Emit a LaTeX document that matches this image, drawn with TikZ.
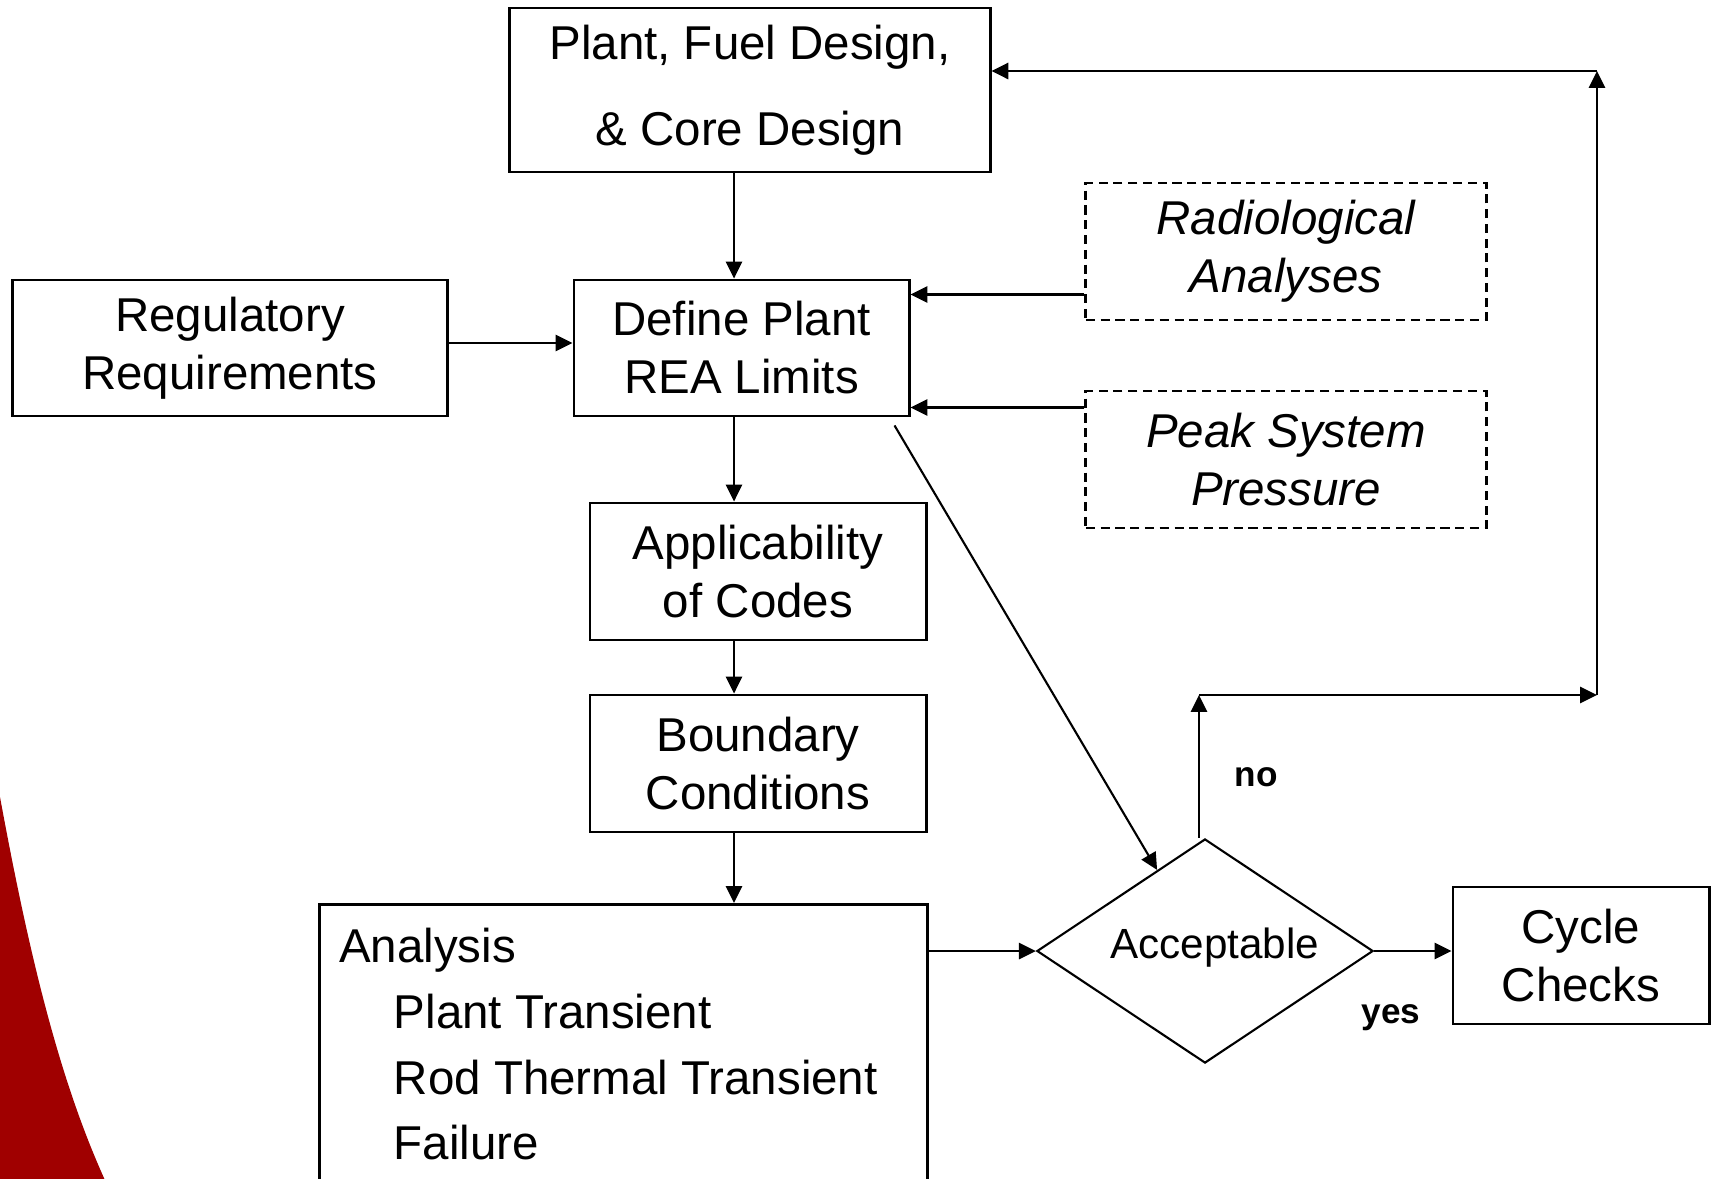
\documentclass[tikz,border=0pt]{standalone}
\usepackage{fontspec}
\setmainfont{Liberation Sans}
\usetikzlibrary{arrows.meta,shapes.geometric,calc}
\definecolor{deckred}{RGB}{160,0,0}

\begin{document}
\begin{tikzpicture}[x=0.01cm, y=-0.01cm, line width=0.6pt,
	every node/.style={font=\fontsize{13.5}{16.5}\selectfont},
	>={Triangle[length=4.8pt,width=4.6pt]},
	blockbox/.style={draw, line width=0.8pt, align=center, inner sep=0pt},
	inputbox/.style={blockbox, dash pattern=on 2.6pt off 1.6pt, font=\fontsize{13.5}{16.5}\selectfont\itshape}]
	\useasboundingbox (0,0) rectangle (1712,1178);
	\fill[deckred] (0,797) .. controls (30,960) and (60,1080) .. (104,1178) -- (112,1200) -- (0,1200) -- cycle;
	\node[blockbox, minimum width=4.8cm, minimum height=1.64cm, font=\fontsize{13.5}{24.5}\selectfont] (plant) at (750,90) {Plant, Fuel Design,\\ \& Core Design};
	\node[blockbox, minimum width=4.34cm, minimum height=1.36cm] (reg) at (230,348) {Regulatory\\ Requirements};
	\node[blockbox, minimum width=3.35cm, minimum height=1.36cm] (define) at (741.5,348) {Define Plant\\ REA Limits};
	\node[inputbox, minimum width=4cm, minimum height=1.37cm] (radio) at (1286,251.5) {Radiological\\ Analyses};
	\node[inputbox, minimum width=4cm, minimum height=1.37cm] (peak) at (1286,459.5) {Peak System\\ Pressure};
	\node[blockbox, minimum width=3.36cm, minimum height=1.37cm] (appl) at (758,571.5) {Applicability\\ of Codes};
	\node[blockbox, minimum width=3.36cm, minimum height=1.37cm] (bound) at (758,763.5) {Boundary\\ Conditions};
	\node[blockbox, minimum width=6.08cm, minimum height=3.6cm, anchor=north west] (ana) at (318,903) {};
	\node[anchor=north west, align=left, inner sep=0pt, font=\fontsize{13.5}{18.7}\selectfont] (anatext) at (338,927) {Analysis\\ \hspace*{15.6pt}Plant Transient\\ \hspace*{15.6pt}Rod Thermal Transient\\ \hspace*{15.6pt}Failure};
	\node[draw, diamond, aspect=1.5, minimum width=3.36cm, minimum height=2.24cm, inner sep=0pt, font=\fontsize{12}{14}\selectfont] (acc) at (1205,951) {\hspace*{5.6pt}\raisebox{4.4pt}{Acceptable}};
	\node[blockbox, minimum width=2.56cm, minimum height=1.37cm] (cyc) at (1581,955.5) {Cycle\\ Checks};
	\node[font=\fontsize{10}{12}\selectfont\bfseries] (nolbl) at (1256,777) {no};
	\node[font=\fontsize{10}{12}\selectfont\bfseries] (yeslbl) at (1391,1018) {yes};
	\coordinate (spine) at (734,0);
	\coordinate (g1) at ($(reg.east)+(0,-5)$);
	\coordinate (r1) at ($(radio.west)+(0,43)$);
	\coordinate (p1) at ($(peak.west)+(0,-52)$);
	\coordinate (d1) at ($(define.south east)+(-16,8)$);
	\coordinate (n1) at (1199,695);
	\coordinate (n2) at (1597,695);
	\coordinate (n3) at (1597,71);
	\draw[->] (plant.south -| spine) -- (define.north -| spine);
	\draw[->] (g1) -- (g1 -| define.west);
	\draw[->] (r1) -- (r1 -| define.east);
	\draw[->] (p1) -- (p1 -| define.east);
	\draw[->] (define.south -| spine) -- (appl.north -| spine);
	\draw[->] (appl.south -| spine) -- (bound.north -| spine);
	\draw[->] (bound.south -| spine) -- (ana.north -| spine);
	\draw[->] (d1) -- (acc);
	\draw[->] (acc.west -| ana.east) -- (acc.west);
	\draw[->] (acc.east) -- (acc.east -| cyc.west);
	\draw[->] ($(acc.north)+(-6,0)$) -- (n1);
	\draw[->] (n1) -- (n2);
	\draw[->] (n2) -- (n3);
	\draw[->, line width=0.8pt] (n3) -- (n3 -| plant.east);
\end{tikzpicture}
\end{document}
